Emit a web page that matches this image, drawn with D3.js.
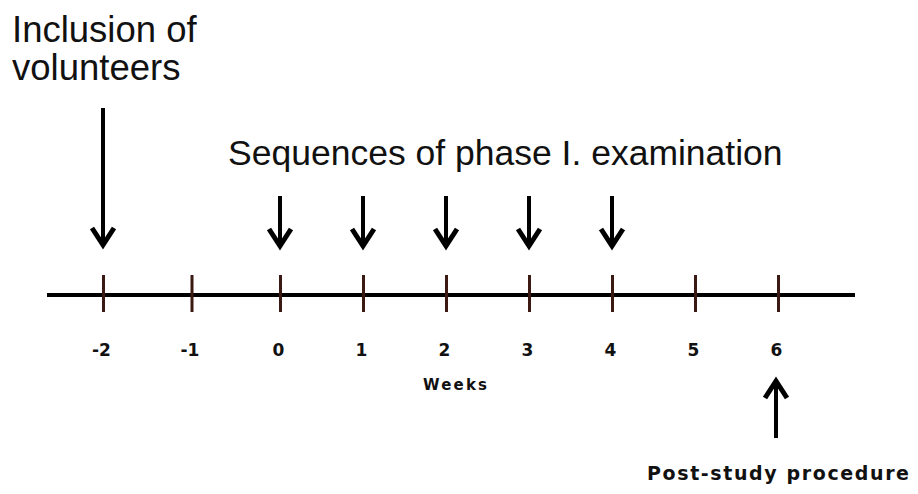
<!DOCTYPE html>
<html>
<head>
<meta charset="utf-8">
<script src="https://cdn.jsdelivr.net/npm/d3@7"></script>
<style>
  html, body { margin: 0; padding: 0; background: #fff; }
  svg { display: block; }
</style>
</head>
<body>
<div id="chart"></div>
<script>
// timeline data
const weeks = [-2, -1, 0, 1, 2, 3, 4, 5, 6];
const examWeeks = [0, 1, 2, 3, 4];
const inclusionWeek = -2;
const postStudyWeek = 6;
const inclusionLines = ["Inclusion of", "volunteers"];
const examTitle = "Sequences of phase I. examination";
const axisTitle = "Weeks";
const postStudyLabel = "Post-study procedure";

const width = 918, height = 494;
const axisY = 295;

const svg = d3.select("#chart").append("svg")
    .attr("width", width)
    .attr("height", height);

// piecewise scale, the drawing's spacing is slightly uneven
const x = d3.scaleLinear()
    .domain([-2, 0, 6])
    .range([103, 280, 778]);

// main line
svg.append("line")
    .attr("x1", 47).attr("x2", 855)
    .attr("y1", axisY).attr("y2", axisY)
    .attr("stroke", "#000")
    .attr("stroke-width", 4);

// ticks + labels via d3 axis
const axis = d3.axisBottom(x)
    .tickValues(weeks)
    .tickSize(0)
    .tickPadding(0)
    .tickFormat(d => String(d)); // plain hyphen, not the unicode minus

const gAxis = svg.append("g")
    .attr("transform", "translate(0," + axisY + ")")
    .call(axis);

gAxis.select(".domain").remove();
gAxis.selectAll(".tick").append("line")
    .attr("y1", -20).attr("y2", 17)
    .attr("stroke", "#3a1a12")
    .attr("stroke-width", 3);
gAxis.selectAll(".tick text")
    .attr("x", -2)
    .attr("y", 61)
    .attr("dy", 0)
    .attr("fill", "#111")
    .style("font-family", "'DejaVu Sans', sans-serif")
    .style("font-weight", "bold")
    .style("font-size", "17px");

svg.append("text")
    .attr("x", 455)
    .attr("y", 390)
    .attr("text-anchor", "middle")
    .attr("fill", "#111")
    .style("font-family", "'DejaVu Sans', sans-serif")
    .style("font-weight", "bold")
    .style("font-size", "15px")
    .attr("textLength", 64)
    .text(axisTitle);

// arrow helper: shaft + chevron head
function arrow(cx, yStart, yTip) {
    const dir = yTip > yStart ? 1 : -1;
    const g = svg.append("g");
    g.append("line")
        .attr("x1", cx).attr("x2", cx)
        .attr("y1", yStart).attr("y2", yTip - dir * 3)
        .attr("stroke", "#000")
        .attr("stroke-width", 4);
    g.append("path")
        .attr("d", d3.line()([
            [cx - 11, yTip - dir * 21],
            [cx, yTip - dir * 4],
            [cx + 11, yTip - dir * 21]
        ]))
        .attr("fill", "none")
        .attr("stroke", "#000")
        .attr("stroke-width", 5)
        .attr("stroke-linejoin", "miter");
}

// inclusion arrow
arrow(x(inclusionWeek), 108, 249);

// exam arrows
examWeeks.forEach(w => arrow(x(w), 196, 250));

// post-study arrow
arrow(x(postStudyWeek) - 2, 438, 377);

// texts
const bigFont = "'Liberation Sans', Arial, sans-serif";

svg.append("text")
    .attr("x", 12)
    .attr("y", 42)
    .attr("fill", "#111")
    .style("font-family", bigFont)
    .style("font-size", "36.5px")
    .selectAll("tspan")
    .data(inclusionLines)
    .enter().append("tspan")
    .attr("x", 12)
    .attr("dy", (d, i) => i === 0 ? 0 : 38)
    .text(d => d);

svg.append("text")
    .attr("x", 228)
    .attr("y", 165)
    .attr("fill", "#111")
    .style("font-family", bigFont)
    .style("font-size", "35.5px")
    .text(examTitle);

svg.append("text")
    .attr("x", x(postStudyWeek))
    .attr("y", 480)
    .attr("text-anchor", "middle")
    .attr("fill", "#111")
    .style("font-family", "'DejaVu Sans', sans-serif")
    .style("font-weight", "bold")
    .style("font-size", "19px")
    .attr("textLength", 262)
    .text(postStudyLabel);
</script>
</body>
</html>
